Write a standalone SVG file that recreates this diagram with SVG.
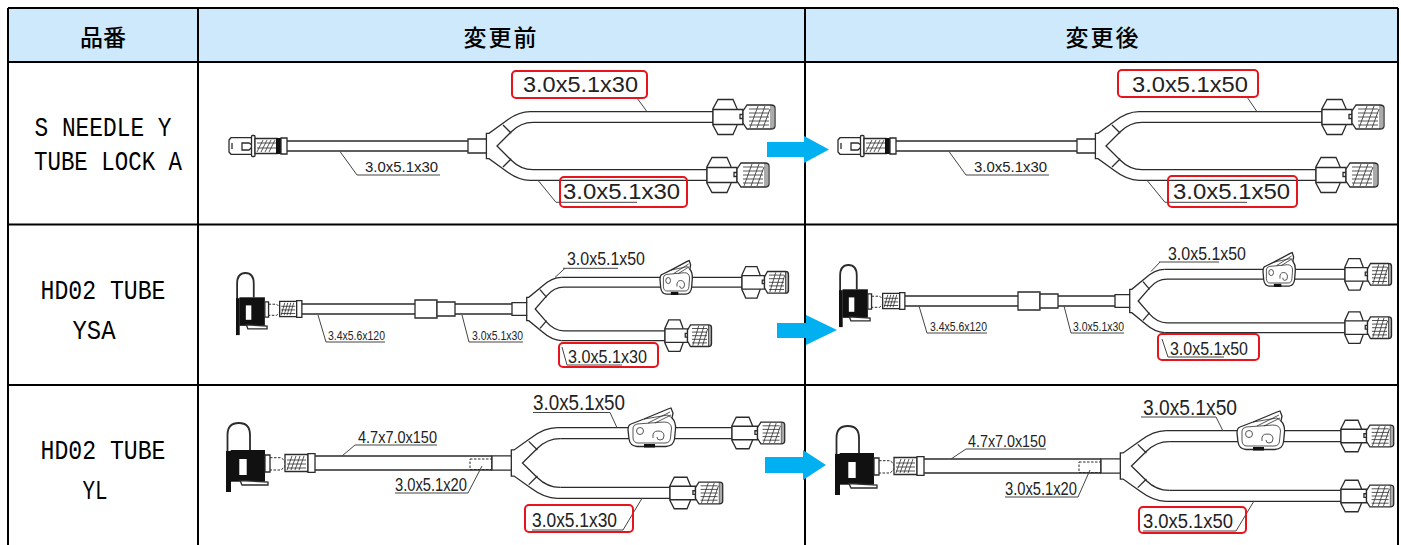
<svg xmlns="http://www.w3.org/2000/svg" xmlns:xlink="http://www.w3.org/1999/xlink" width="1401" height="545" viewBox="0 0 1401 545">
<style>
.t{fill:none;stroke:#2b2b2b;stroke-width:1.3;vector-effect:non-scaling-stroke}
.w{fill:#fff;stroke:#2b2b2b;stroke-width:1.3;vector-effect:non-scaling-stroke}
.h{fill:none;stroke:#2b2b2b;stroke-width:0.8;vector-effect:non-scaling-stroke}
.d{fill:none;stroke:#2b2b2b;stroke-width:1;stroke-dasharray:2.5 1.5;vector-effect:non-scaling-stroke}
.k{fill:#111}
.ld{fill:none;stroke:#444;stroke-width:1}
.lb{font-family:"Liberation Sans",Arial,sans-serif;fill:#222}
.rb{fill:none;stroke:#e8141b;stroke-width:2}
.grid{stroke:#000;stroke-width:2;fill:none}
.hd{font-family:"Noto Sans CJK JP","Noto Sans CJK SC",sans-serif;font-size:23px;font-weight:500;text-anchor:middle;fill:#000}
.pn{font-family:"Liberation Mono",monospace;font-size:28px;fill:#000;text-anchor:middle}
.ar{fill:#00b0f0}
</style>
<defs>
<g id="fc">
<path class="w" d="M0,-8.4 L5,-17.5 L20,-17.5 L24,-8.4 L24,8.4 L20,17.5 L5,17.5 L0,8.4 Z"/>
<rect class="w" x="0" y="-7.5" width="30" height="15"/>
<rect class="w" x="27" y="-2.5" width="3" height="4"/>
<path class="w" d="M30,-6 L34,-12 L58,-12 Q62,-12 62,-9 L62,9 Q62,12 58,12 L34,12 L30,6 Z"/>
<path class="h" d="M36,-8 H56 M36,-4 H56 M36,0 H56 M36,4 H56 M36,8 H56 M37,11 L45,-11 M44,11 L52,-11 M50,11 L57,-8 M58,-12 V12 M60,-11 V11"/>
</g>
<g id="ml">
<path class="w" d="M0,-6 L2,-8.3 L23,-8.3 L23,8.3 L2,8.3 L0,6 Z"/>
<path class="t" d="M3,-3 V3 M13,-3 L20,-3 L23,-1 L23,1 L20,4 L13,4 Z"/>
<rect class="w" x="22.5" y="-10.5" width="3.5" height="21" rx="1"/>
<rect class="w" x="26" y="-7.5" width="22" height="15"/>
<path class="h" d="M28,6 L34,-6 M32,6 L38,-6 M36,6 L42,-6 M40,6 L46,-6 M28,-3 H47 M28,2 H47"/>
<rect class="k" x="47" y="-8" width="5" height="16"/>
<rect class="w" x="52" y="-8" width="6" height="16"/>
</g>
<g id="cl">
<path class="t" style="stroke-width:1.8" d="M1.5,29 L1.5,-28 Q1.5,-40 12.8,-40 Q24,-40 24,-28 L24,-13"/>
<rect class="k" x="0" y="-12" width="5" height="41"/>
<rect class="k" x="4.7" y="-13" width="34.3" height="31.7"/>
<rect x="13.3" y="-4" width="7.4" height="16" fill="#fff"/>
<path class="w" d="M14,17.5 L42,19 L42,22 L16,22 Z"/>
<rect class="w" x="39" y="-8" width="5" height="17"/>
<path class="d" d="M44,-5.3 L55,-5.3 L59,-2 L59,3.5 L55,7 L44,7"/>
<rect class="w" x="59" y="-8.5" width="23" height="17"/>
<path class="h" d="M61,7 L66,-7 M65,7 L70,-7 M69,7 L74,-7 M73,7 L78,-7 M61,-3 H80 M61,1 H80 M61,5 H80"/>
<rect class="w" x="82" y="-9.3" width="7" height="18.6"/>
</g>
<g id="yb">
<rect class="w" x="0" y="-7" width="18.4" height="14"/>
<path class="t" d="M18.4,-7 V-12.7 H21 L37,-24.3 Q50,-34.3 62,-34.3 M18.4,7 V12.7 H21 L37,24.3 Q50,34.3 62,34.3 M65,-23.7 Q52.7,-23.7 43.3,-14.3 L29,0 L43.3,14.3 Q52.7,23.7 65,23.7 M35,-21 L43.3,-12.7 M35,21 L43.3,12.7"/>
</g>
<g id="rc">
<path class="w" d="M3,-9 L16,-14 L40,-24 L43,-25 L45,-20 L44,-15 Q48,-11 47.5,-4 L46.5,6 Q45.5,13 38,13.5 L9,13.5 Q2,13 1,6 L0,-3 Q0,-8 3,-9 Z"/>
<path class="h" d="M5,-5 Q5,-8 9,-9 L36,-11 Q43,-11 43.5,-5 L42.5,5 Q42,10 37,10 L10,10 Q5.5,10 5,5 Z"/>
<path class="h" d="M16,-14 L40,-18 L44,-15 M20,-10 L42,-21 M27,-10 L43,-18"/>
<circle class="h" cx="12" cy="-2" r="3.5"/>
<path class="h" d="M25,5 Q24,-2 30,-2 Q36,-2 36,3 Q36,7 32,7 Q29,7 29,4"/>
<rect class="k" x="16" y="11" width="11" height="3.5"/>
</g>
<g id="r1d">
<use xlink:href="#ml" transform="translate(229,146)"/>
<path class="t" d="M287,141 H468 M287,151 H468"/>
<use xlink:href="#yb" transform="translate(468,146)"/>
<path class="t" d="M530,111.7 H713 M533,122.3 H713 M533,169.7 H707 M530,180.3 H707"/>
<use xlink:href="#fc" transform="translate(713,117)"/>
<use xlink:href="#fc" transform="translate(707,175)"/>
</g>
<g id="r2d">
<use xlink:href="#cl" transform="translate(236,309) scale(0.74,0.9)"/>
<path class="t" d="M302,304 H415 M302,314 H415 M455,304 H512 M455,314 H512"/>
<rect class="w" x="415" y="300" width="22" height="18"/>
<rect class="w" x="437" y="302" width="18" height="14"/>
<use xlink:href="#yb" transform="translate(512,309) scale(0.8,0.92)"/>
<path class="t" d="M561.6,277.4 H742 M564,287.2 H742"/>
<use xlink:href="#rc" transform="translate(660,282.3) scale(0.68,0.87)"/>
<use xlink:href="#fc" transform="translate(742,282.3) scale(0.75,0.9)"/>
</g>
<g id="r3d">
<use xlink:href="#cl" transform="translate(226,463)"/>
<path class="t" d="M315,456 H492 M315,470 H492 M492,456 V470"/>
<rect class="d" x="470" y="459" width="22" height="10.5"/>
<use xlink:href="#yb" transform="translate(492,463) scale(1.05,1.03)"/>
<path class="t" d="M557.1,427.7 H732 M560.3,438.6 H732"/>
<use xlink:href="#rc" transform="translate(628,433)"/>
<use xlink:href="#fc" transform="translate(732,433) scale(0.85,0.9)"/>
</g>
</defs>

<rect width="1401" height="545" fill="#fff"/>

<g id="table">
<rect x="8" y="8" width="1390" height="54" fill="#cde9fb"/>
<path class="grid" d="M8,8 H1398 M8,62 H1398 M8,224.5 H1398 M8,385 H1398 M8,8 V545 M198,8 V545 M805,8 V545 M1398,8 V545"/>
</g>

<g id="hdr-hinban"><text class="hd" x="103" y="46">品番</text></g>
<g id="hdr-before"><text class="hd" x="501" y="46" letter-spacing="2">変更前</text></g>
<g id="hdr-after"><text class="hd" x="1103" y="46" letter-spacing="2">変更後</text></g>

<g id="pn-1">
<text class="pn" x="103" y="136" textLength="137" lengthAdjust="spacingAndGlyphs">S NEEDLE Y</text>
<text class="pn" x="108" y="170" textLength="148" lengthAdjust="spacingAndGlyphs">TUBE LOCK A</text>
</g>
<g id="pn-2">
<text class="pn" x="103" y="299" textLength="125" lengthAdjust="spacingAndGlyphs">HD02 TUBE</text>
<text class="pn" x="94" y="339" textLength="43" lengthAdjust="spacingAndGlyphs">YSA</text>
</g>
<g id="pn-3">
<text class="pn" x="103" y="459" textLength="125" lengthAdjust="spacingAndGlyphs">HD02 TUBE</text>
<text class="pn" x="95" y="499" textLength="25" lengthAdjust="spacingAndGlyphs">YL</text>
</g>

<g id="r1-before">
<use xlink:href="#r1d"/>
<path class="ld" d="M340,151.5 L357,175 H440 M637,98 L647,111.7 M538,180.3 L556,202.3 H637"/>
<text class="lb" x="365" y="172" font-size="14" textLength="73" lengthAdjust="spacingAndGlyphs">3.0x5.1x30</text>
<rect class="rb" x="512" y="71" width="135" height="27" rx="4"/>
<text class="lb" x="523" y="92" font-size="22" textLength="115" lengthAdjust="spacingAndGlyphs">3.0x5.1x30</text>
<rect class="rb" x="560" y="177" width="127" height="30" rx="4"/>
<text class="lb" x="563" y="199" font-size="22" textLength="117" lengthAdjust="spacingAndGlyphs">3.0x5.1x30</text>
</g>

<g id="r1-after">
<use xlink:href="#r1d" transform="translate(609,0)"/>
<path class="ld" d="M949,151.5 L966,175 H1049 M1247,97 L1257,111.7 M1147,180.3 L1165,202.3 H1247"/>
<text class="lb" x="974" y="172" font-size="14" textLength="73" lengthAdjust="spacingAndGlyphs">3.0x5.1x30</text>
<rect class="rb" x="1118" y="70" width="140" height="27" rx="4"/>
<text class="lb" x="1132" y="92" font-size="22" textLength="116" lengthAdjust="spacingAndGlyphs">3.0x5.1x50</text>
<rect class="rb" x="1168" y="176" width="129" height="31" rx="4"/>
<text class="lb" x="1173" y="199" font-size="22" textLength="117" lengthAdjust="spacingAndGlyphs">3.0x5.1x50</text>
</g>

<g id="r2-before">
<use xlink:href="#r2d"/>
<path class="t" d="M564,330.8 H665 M561.6,340.6 H665"/>
<use xlink:href="#fc" transform="translate(665,335.7) scale(0.75,0.9)"/>
<path class="ld" d="M565,268.3 L555,277.4 M563,268.3 H618 M562,347 L567,365 H622 M318,315 L326,342 H385 M462,315 L469,342 H523"/>
<text class="lb" x="567" y="265" font-size="18" textLength="78" lengthAdjust="spacingAndGlyphs">3.0x5.1x50</text>
<rect class="rb" x="559" y="343" width="99" height="24" rx="4"/>
<text class="lb" x="568" y="362.5" font-size="18" textLength="79" lengthAdjust="spacingAndGlyphs">3.0x5.1x30</text>
<text class="lb" x="328" y="340" font-size="13" textLength="57" lengthAdjust="spacingAndGlyphs">3.4x5.6x120</text>
<text class="lb" x="472" y="340" font-size="13" textLength="51" lengthAdjust="spacingAndGlyphs">3.0x5.1x30</text>
</g>

<g id="r2-after">
<use xlink:href="#r2d" transform="translate(603,-8)"/>
<path class="t" d="M1167,322.8 H1345 M1164.6,332.6 H1345"/>
<use xlink:href="#fc" transform="translate(1345,327.7) scale(0.75,0.9)"/>
<path class="ld" d="M1160,262 L1151,271.5 M1159,262 H1219 M1162,339 L1168,357 H1224 M919,306 L927,333 H987 M1064,306 L1071,333 H1124"/>
<text class="lb" x="1168" y="259.5" font-size="18" textLength="78" lengthAdjust="spacingAndGlyphs">3.0x5.1x50</text>
<rect class="rb" x="1158" y="334" width="101" height="26" rx="4"/>
<text class="lb" x="1170" y="355" font-size="18" textLength="78" lengthAdjust="spacingAndGlyphs">3.0x5.1x50</text>
<text class="lb" x="930" y="331" font-size="13" textLength="57" lengthAdjust="spacingAndGlyphs">3.4x5.6x120</text>
<text class="lb" x="1073" y="331" font-size="13" textLength="51" lengthAdjust="spacingAndGlyphs">3.0x5.1x30</text>
</g>

<g id="r3-before">
<use xlink:href="#r3d"/>
<path class="t" d="M560.3,487.4 H670 M557.1,498.3 H670"/>
<use xlink:href="#fc" transform="translate(670,493) scale(0.85,0.9)"/>
<path class="ld" d="M342,456 L355,445 H437 M482,466 L468,493 H395 M533,412.5 H610 L617,427.7 M532,530 H623 L642,498.3"/>
<text class="lb" x="358" y="443" font-size="16" textLength="79" lengthAdjust="spacingAndGlyphs">4.7x7.0x150</text>
<text class="lb" x="395" y="491" font-size="18" textLength="72" lengthAdjust="spacingAndGlyphs">3.0x5.1x20</text>
<text class="lb" x="533" y="410" font-size="22" textLength="92" lengthAdjust="spacingAndGlyphs">3.0x5.1x50</text>
<rect class="rb" x="525" y="505" width="108" height="27" rx="4"/>
<text class="lb" x="532" y="527" font-size="20" textLength="85" lengthAdjust="spacingAndGlyphs">3.0x5.1x30</text>
</g>

<g id="r3-after">
<use xlink:href="#r3d" transform="translate(609,3)"/>
<path class="t" d="M1169.3,490.4 H1341 M1166.1,501.3 H1341"/>
<use xlink:href="#fc" transform="translate(1341,496) scale(0.85,0.9)"/>
<path class="ld" d="M951,459 L966,449 H1046 M1090,470 L1078,497 H1005 M1141,417 H1216 L1223,431 M1143,531 H1236 L1254,501"/>
<text class="lb" x="968" y="447" font-size="16" textLength="78" lengthAdjust="spacingAndGlyphs">4.7x7.0x150</text>
<text class="lb" x="1005" y="495" font-size="18" textLength="72" lengthAdjust="spacingAndGlyphs">3.0x5.1x20</text>
<text class="lb" x="1143" y="415" font-size="22" textLength="94" lengthAdjust="spacingAndGlyphs">3.0x5.1x50</text>
<rect class="rb" x="1139" y="507" width="107" height="26" rx="4"/>
<text class="lb" x="1143" y="528" font-size="20" textLength="90" lengthAdjust="spacingAndGlyphs">3.0x5.1x50</text>
</g>

<g id="connectors">
<path class="ar" d="M767,142 H804 V136 L829,149.5 L804,163 V157 H767 Z"/>
<path class="ar" d="M777,323 H806 V315 L837,330 L806,345 V338 H777 Z"/>
<path class="ar" d="M765,457 H803 V450 L826,465 L803,480 V473 H765 Z"/>
</g>
</svg>
